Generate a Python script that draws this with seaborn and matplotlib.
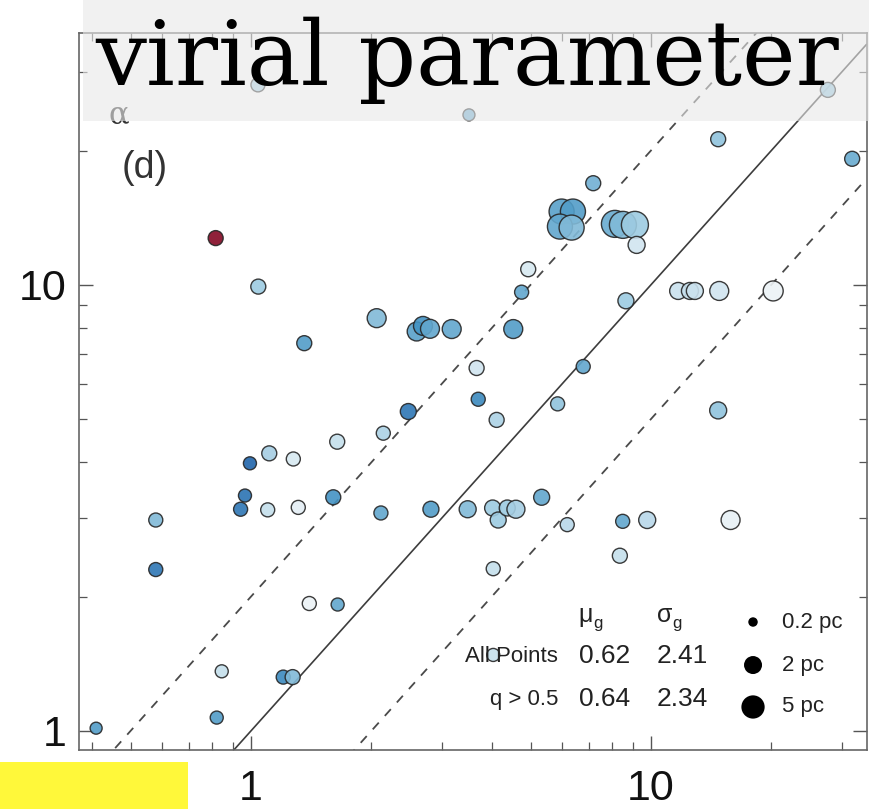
import numpy as np
import pandas as pd
import matplotlib
matplotlib.use("Agg")
import matplotlib.pyplot as plt
from matplotlib.patches import Rectangle
from matplotlib.ticker import NullFormatter, LogLocator
import seaborn as sns

# ---- cloud measurements -------------------------------------------------
x_value = [0.816, 1.043, 2.062, 2.596, 2.692, 2.803, 3.176, 1.359, 3.666, 3.700,
           2.474, 2.142, 14.73, 31.86, 7.174, 5.980, 6.383, 5.923, 6.335, 8.128,
           8.511, 9.120, 9.210, 4.934, 4.750, 8.660, 11.70, 12.52, 12.88, 14.82,
           20.22, 4.527, 4.114, 6.772, 5.844, 14.73, 1.643, 1.111, 1.276, 0.994,
           0.966, 0.942, 1.101, 1.313, 1.606, 2.113, 2.818, 3.482, 0.578, 0.578,
           1.399, 1.647, 0.845, 1.204, 1.271, 0.821, 0.410, 4.020, 4.151, 4.373,
           4.597, 5.331, 6.177, 8.500, 9.789, 15.82, 4.034, 8.363, 4.034, 1.041,
           3.508, 27.70]
alpha_vir = [12.73, 9.91, 8.42, 7.86, 8.09, 7.97, 7.96, 7.40, 6.51, 5.54,
             5.20, 4.65, 21.21, 19.17, 16.90, 14.60, 14.60, 13.51, 13.44, 13.70,
             13.63, 13.63, 12.29, 10.84, 9.63, 9.21, 9.69, 9.69, 9.69, 9.69,
             9.69, 7.96, 4.98, 6.56, 5.41, 5.23, 4.45, 4.19, 4.07, 3.98,
             3.37, 3.14, 3.13, 3.17, 3.34, 3.08, 3.14, 3.14, 2.97, 2.30,
             1.93, 1.92, 1.36, 1.32, 1.32, 1.071, 1.014, 3.16, 2.97, 3.16,
             3.14, 3.34, 2.90, 2.95, 2.97, 2.97, 2.31, 2.47, 1.48, 28.08,
             24.05, 27.36]
q_value = [0.04, 0.68, 0.72, 0.77, 0.80, 0.76, 0.76, 0.78, 0.60, 0.82,
           0.86, 0.66, 0.70, 0.75, 0.74, 0.77, 0.78, 0.76, 0.72, 0.75,
           0.72, 0.68, 0.60, 0.58, 0.76, 0.68, 0.61, 0.62, 0.61, 0.60,
           0.53, 0.78, 0.66, 0.76, 0.70, 0.70, 0.62, 0.67, 0.58, 0.90,
           0.87, 0.86, 0.62, 0.55, 0.80, 0.76, 0.78, 0.72, 0.72, 0.86,
           0.53, 0.76, 0.62, 0.82, 0.72, 0.78, 0.78, 0.68, 0.68, 0.68,
           0.67, 0.76, 0.64, 0.76, 0.64, 0.54, 0.62, 0.62, 0.62, 0.68,
           0.76, 0.70]
radius_pc = [1.04, 1.04, 2.4, 2.4, 2.4, 2.4, 2.4, 1.04, 1.04, 0.82,
             1.31, 0.82, 1.04, 1.04, 1.04, 6.5, 6.5, 6.5, 6.5, 8.5,
             8.5, 8.5, 1.63, 1.04, 0.82, 1.31, 1.63, 1.63, 1.63, 2.4,
             2.9, 2.4, 1.04, 0.82, 0.82, 1.63, 1.04, 1.04, 0.82, 0.63,
             0.63, 0.82, 0.82, 0.82, 1.04, 0.82, 1.31, 1.63, 0.82, 0.82,
             0.82, 0.63, 0.63, 0.82, 1.04, 0.63, 0.47, 1.31, 1.31, 1.31,
             2.0, 1.31, 0.82, 0.82, 1.63, 2.4, 0.82, 1.04, 0.63, 0.82,
             0.47, 1.04]

# ---- summary statistics and size key -----------------------------------
stat_rows = ["All Points", "q > 0.5"]
mu_g = [0.62, 0.64]
sigma_g = [2.41, 2.34]
legend_radius_pc = [0.2, 2.0, 5.0]
legend_radius_labels = ["0.2 pc", "2 pc", "5 pc"]

x_ticks = [1, 10]
y_ticks = [1, 10]
line_factors = [0.5, 1.0, 2.0]


def marker_area(r):
    """Marker area (pt^2) for a cloud radius in pc."""
    d_px = 18.0 * (np.asarray(r, dtype=float) / 2.0) ** 0.28
    return (d_px * 0.72) ** 2


sns.set_theme(style="ticks")
plt.rcParams["font.family"] = ["Liberation Sans", "DejaVu Sans"]

fig = plt.figure(figsize=(8.69, 8.09), dpi=100)
ax = fig.add_axes([79 / 869, 59 / 809, 787.5 / 869, 717 / 809])
ax.set_xscale("log")
ax.set_yscale("log")
xlim = (0.3715, 34.6)
ylim = (0.906, 36.7)
ax.set_xlim(*xlim)
ax.set_ylim(*ylim)

# reference lines alpha = x, 2x, x/2
xs = np.array(xlim)
for k in line_factors:
    if k == 1.0:
        ax.plot(xs, k * xs, color="#3d3d3d", lw=1.2, zorder=1)
    else:
        ax.plot(xs, k * xs, color="#4a4a4a", lw=1.3, dashes=(5, 5), zorder=1)

df = pd.DataFrame({"x": x_value, "alpha": alpha_vir, "q": q_value,
                   "radius": radius_pc})
size_map = {r: float(marker_area(r)) for r in sorted(set(radius_pc))}
sns.scatterplot(data=df, x="x", y="alpha", hue="q", palette="RdBu",
                hue_norm=(0, 1), size="radius", sizes=size_map,
                edgecolor="#262626", linewidth=1.0, alpha=0.9,
                legend=False, ax=ax, zorder=3)
ax.set_xlabel("")
ax.set_ylabel("")

# axes styling
for s in ax.spines.values():
    s.set_color("#666666")
    s.set_linewidth(1.2)
ax.set_xticks(x_ticks)
ax.set_xticklabels([str(t) for t in x_ticks])
ax.set_yticks(y_ticks)
ax.set_yticklabels([str(t) for t in y_ticks])
ax.xaxis.set_minor_locator(LogLocator(base=10, subs=np.arange(2, 10)))
ax.yaxis.set_minor_locator(LogLocator(base=10, subs=np.arange(2, 10)))
ax.xaxis.set_minor_formatter(NullFormatter())
ax.yaxis.set_minor_formatter(NullFormatter())
ax.tick_params(which="both", direction="in", top=True, right=True,
               color="#555555")
ax.tick_params(which="major", length=10, width=1.0, labelsize=31,
               labelcolor="#111111")
ax.tick_params(which="minor", length=5.5, width=0.9)
ax.tick_params(axis="x", which="major", pad=14)
ax.tick_params(axis="y", which="major", pad=9)

# panel annotations
ax.text(0.0546, 0.8117, "(d)", transform=ax.transAxes, fontsize=27,
        color="#333333", ha="left", va="center")
ax.text(0.037, 0.886, "α", transform=ax.transAxes, fontsize=22,
        color="#333333", ha="left", va="center", family="DejaVu Serif")

# statistics table
ax.text(0.6337, 0.1786, "μ", transform=ax.transAxes, fontsize=18,
        color="#222222", ha="left", va="baseline")
ax.text(0.6530, 0.1700, "g", transform=ax.transAxes, fontsize=12,
        color="#222222", ha="left", va="baseline")
ax.text(0.7340, 0.1786, "σ", transform=ax.transAxes, fontsize=18,
        color="#222222", ha="left", va="baseline")
ax.text(0.7530, 0.1700, "g", transform=ax.transAxes, fontsize=12,
        color="#222222", ha="left", va="baseline")
row_y = [0.1311, 0.0711]
for label, mu, sg, yy in zip(stat_rows, mu_g, sigma_g, row_y):
    ax.text(0.6083, yy, label, transform=ax.transAxes, fontsize=16,
            color="#222222", ha="right", va="center")
    ax.text(0.6349, yy, f"{mu:.2f}", transform=ax.transAxes, fontsize=19,
            color="#222222", ha="left", va="center")
    ax.text(0.7340, yy, f"{sg:.2f}", transform=ax.transAxes, fontsize=19,
            color="#222222", ha="left", va="center")

# size key
key_y = [0.1785, 0.1185, 0.0600]
ax.scatter([0.8559] * 3, key_y, s=marker_area(legend_radius_pc), c="black",
           linewidths=0, transform=ax.transAxes, clip_on=False, zorder=5)
for lab, yy in zip(legend_radius_labels, key_y):
    ax.text(0.8927, yy, lab, transform=ax.transAxes, fontsize=16,
            color="#222222", ha="left", va="center")

# header band with the title
fig.add_artist(Rectangle((83 / 869, 688 / 809), 1 - 83 / 869, 121 / 809,
                         transform=fig.transFigure, facecolor="#e9e9e9",
                         edgecolor="none", alpha=0.6, zorder=10))
fig.text(95 / 869, 724 / 809, "virial parameter", fontsize=65,
         family="DejaVu Serif", color="black", ha="left", va="baseline",
         zorder=11)

# highlight patch in the lower-left corner
fig.add_artist(Rectangle((0, 0), 188 / 869, 47 / 809,
                         transform=fig.transFigure, facecolor="#fff83a",
                         edgecolor="none", zorder=10))

fig.savefig("out.png", dpi=100)
